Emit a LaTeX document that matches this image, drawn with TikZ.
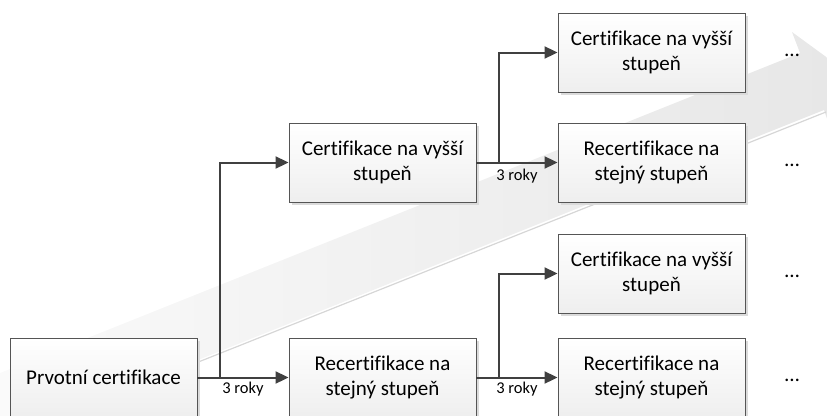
\documentclass[tikz,border=0pt]{standalone}
\usepackage{fontspec}
\setmainfont{Carlito}[Ligatures=CommonOff]
\usetikzlibrary{arrows.meta,shadows}
\definecolor{ln}{HTML}{404040}
\definecolor{bd}{HTML}{555555}
\begin{document}
\begin{tikzpicture}[x=1pt,y=-1pt,
  box/.style={draw=bd, line width=0.9pt, top color=white, bottom color=gray!13,
    minimum width=187pt, minimum height=79pt, align=center, inner sep=0pt,
    font=\fontsize{21}{25}\selectfont,
    drop shadow={shadow xshift=3pt, shadow yshift=-3pt, fill=gray!28, opacity=1}},
  conn/.style={draw=ln, line width=2pt, -{Triangle[length=13pt,width=12pt]}},
  lbl/.style={font=\fontsize{16.5}{18}\selectfont, inner sep=0pt},
  dots/.style={font=\fontsize{21}{25}\selectfont, inner sep=0pt}]
\useasboundingbox (0,0) rectangle (827,415);
% background progress arrow
\shade[left color=gray!4, middle color=gray!26, right color=gray!19]
  (0,373) -- (800,53) -- (792,32) -- (844,70) -- (832,133) -- (824,110) -- (0,439) -- cycle;
\draw[gray!32, line width=1.2pt] (0,441) -- (826,112);
% boxes
\node[box] (p)  at (103.5,377.5) {Prvotní certifikace};
\node[box] (c1) at (382.5,162.5) {Certifikace na vyšší\\stupeň};
\node[box] (r1) at (382.5,377.5) {Recertifikace na\\stejný stupeň};
\node[box] (c2) at (651.5,52.5)  {Certifikace na vyšší\\stupeň};
\node[box] (r2) at (651.5,162.5) {Recertifikace na\\stejný stupeň};
\node[box] (c3) at (651.5,273.5) {Certifikace na vyšší\\stupeň};
\node[box] (r3) at (651.5,377.5) {Recertifikace na\\stejný stupeň};
% junctions
\coordinate (j1) at (220,377.5);
\coordinate (j2) at (499,162.5);
\coordinate (j3) at (499,377.5);
% connectors
\draw[conn] (p.east) -- (r1.west);
\draw[conn] (j1) |- (c1.west);
\draw[conn] (c1.east) -- (r2.west);
\draw[conn] (j2) |- (c2.west);
\draw[conn] (r1.east) -- (r3.west);
\draw[conn] (j3) |- (c3.west);
% labels
\node[lbl] (l1) at (243,389) {3 roky};
\node[lbl] (l2) at (517,176) {3 roky};
\node[lbl] (l3) at (517,389) {3 roky};
% continuation dots
\node[dots] (d1) at (792,55)    {…};
\node[dots] (d2) at (792,165.5) {…};
\node[dots] (d3) at (792,276.5) {…};
\node[dots] (d4) at (792,380)   {…};
\end{tikzpicture}
\end{document}
